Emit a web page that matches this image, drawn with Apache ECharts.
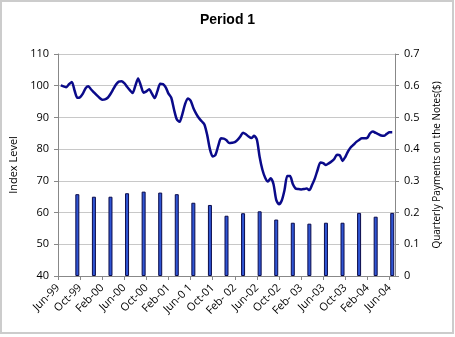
<!DOCTYPE html>
<html>
<head>
<meta charset="utf-8">
<script src="https://cdn.jsdelivr.net/npm/echarts@6/dist/echarts.min.js"></script>
<style>
  html, body { margin: 0; padding: 0; background: #fff; }
  #chart { width: 455px; height: 337px; }
</style>
</head>
<body>
<div id="chart"></div>
<script>
// Tick labels shown on the x axis (one every 8 semi-monthly categories)
const tickLabels = ['Jun-99','Oct-99','Feb-00','Jun-00','Oct-00','Feb-01','Jun-0 1','Oct-01',
  'Feb- 02','Jun-02','Oct-02','Feb- 03','Jun-03','Oct-03','Feb-04','Jun-04'];

// Index level, semi-monthly from mid Jun-99 (null = no value)
const indexLevel = [
  null, 100.1, 99.8, 99.5, 100.5, 101.2, 98.5, 96.2, 96.4, 97.5,
  99.2, 99.8, 98.8, 97.9, 97.0, 96.2, 95.6, 95.7, 96.2, 97.4,
  98.9, 100.4, 101.3, 101.4, 100.8, 99.7, 98.6, 97.7, 100.0, 102.3,
  100.0, 97.8, 98.2, 98.9, 97.5, 96.1, 98.3, 100.6, 100.5, 99.5,
  97.5, 96.2, 92.5, 89.4, 88.6, 91.0, 94.2, 96.0, 95.3, 93.0,
  91.2, 89.8, 88.8, 87.8, 84.5, 80.0, 77.7, 78.2, 81.0, 83.4,
  83.3, 82.8, 81.9, 82.0, 82.2, 82.9, 84.0, 85.2, 84.7, 84.0,
  83.5, 84.2, 83.0, 77.5, 73.5, 71.0, 69.8, 70.8, 69.0, 64.0,
  62.6, 63.8, 67.1, 71.5, 71.5, 69.0, 67.6, 67.4, 67.3, 67.4,
  67.6, 67.1, 68.8, 70.8, 73.5, 75.8, 75.6, 75.0, 75.5, 76.1,
  76.9, 78.2, 78.1, 76.3, 77.5, 79.3, 80.6, 81.4, 82.3, 82.9,
  83.4, 83.4, 83.6, 85.0, 85.6, 85.1, 84.7, 84.3, 84.2, 84.8,
  85.3, 85.3, null
];

// Quarterly payments on the notes ($), first payment Oct-99
const payments = [0.258, 0.250, 0.250, 0.261, 0.266, 0.263, 0.258, 0.231, 0.224, 0.190,
  0.198, 0.204, 0.178, 0.168, 0.165, 0.168, 0.168, 0.199, 0.187, 0.199];

// semi-monthly categories
const categories = [];
{
  let y = 1999, m = 6, half = 1;
  for (let i = 0; i < indexLevel.length; i++) {
    categories.push(y + '-' + String(m).padStart(2, '0') + (half ? '-15' : '-01'));
    if (half) { half = 0; m++; if (m > 12) { m = 1; y++; } } else { half = 1; }
  }
}
// payments fall on the 1st of the quarter month: Oct-99, Jan-00, ...
const paymentSeries = categories.map(() => null);
payments.forEach((v, k) => { paymentSeries[7 + 6 * k] = v; });

const FONT = 'Open Sans';
const chart = echarts.init(document.getElementById('chart'), null, { renderer: 'canvas' });
chart.setOption({
  animation: false,
  backgroundColor: '#ffffff',
  title: {
    text: 'Period 1', left: 'center', top: 8,
    textStyle: { fontFamily: 'Liberation Sans', fontWeight: 'bold', fontSize: 14, color: '#000' }
  },
  graphic: [{
    type: 'rect', shape: { x: 1, y: 1, width: 452, height: 332 },
    style: { fill: 'none', stroke: '#cccccc', lineWidth: 2 }, silent: true
  }],
  grid: { left: 58, right: 60, top: 54, bottom: 61, containLabel: false },
  xAxis: {
    type: 'category', data: categories, boundaryGap: false,
    axisLine: { lineStyle: { color: '#888', width: 1 } },
    axisTick: { show: true, interval: 7, length: 4, lineStyle: { color: '#888' } },
    axisLabel: {
      interval: 7, rotate: 45, fontFamily: FONT, fontSize: 11, color: '#000', margin: 10,
      formatter: (v, i) => tickLabels[Math.round(i / 8)] || ''
    },
    splitLine: { show: false }
  },
  yAxis: [{
    type: 'value', min: 40, max: 110, interval: 10, position: 'left',
    name: 'Index Level', nameLocation: 'middle', nameGap: 31, nameRotate: 90,
    nameTextStyle: { fontFamily: FONT, fontSize: 11, color: '#000' },
    axisLine: { show: true, lineStyle: { color: '#888' } },
    axisTick: { show: true, length: 4, lineStyle: { color: '#888' } },
    axisLabel: { fontFamily: FONT, fontSize: 11, color: '#000', margin: 9 },
    splitLine: { show: true, lineStyle: { color: '#c8c8c8', width: 1 } }
  }, {
    type: 'value', min: 0, max: 0.7, interval: 0.1, position: 'right',
    name: 'Quarterly Payments on the Notes($)', nameLocation: 'middle', nameGap: 37, nameRotate: 90,
    nameTextStyle: { fontFamily: FONT, fontSize: 10, color: '#000' },
    axisLine: { show: true, lineStyle: { color: '#888' } },
    axisTick: { show: true, length: 4, lineStyle: { color: '#888' } },
    axisLabel: { fontFamily: FONT, fontSize: 11, color: '#000', margin: 9 },
    splitLine: { show: false }
  }],
  series: [{
    type: 'bar', yAxisIndex: 1, data: paymentSeries, barWidth: 4, barGap: '-100%',
    itemStyle: { color: '#2f55d4', borderColor: '#0b0b4a', borderWidth: 1 },
    clip: false
  }, {
    type: 'line', yAxisIndex: 0, data: indexLevel, showSymbol: false, smooth: 0.25,
    connectNulls: false,
    lineStyle: { color: '#0a0a8a', width: 2.5 }
  }]
});
</script>
</body>
</html>
